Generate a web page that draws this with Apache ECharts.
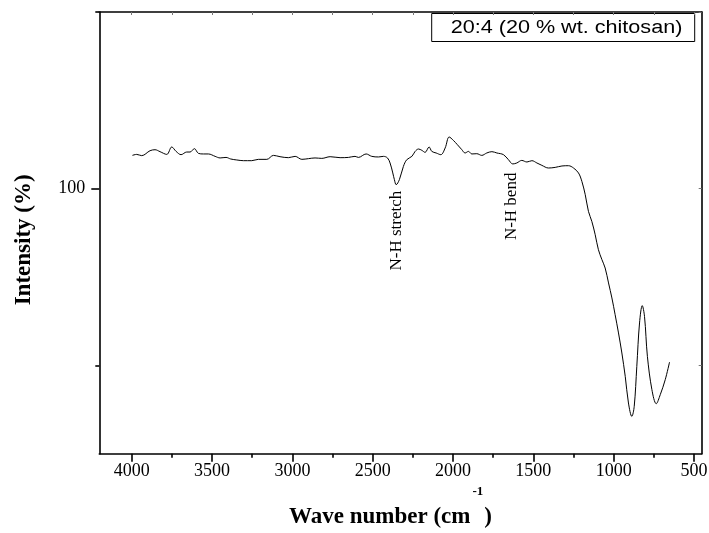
<!DOCTYPE html>
<html>
<head>
<meta charset="utf-8">
<script src="https://cdn.jsdelivr.net/npm/echarts@6/dist/echarts.min.js"></script>
<style>
html,body{margin:0;padding:0;background:#fff;}
#c{width:709px;height:533px;}
</style>
</head>
<body>
<div id="c"></div>
<script>
// ---- data (wave number in cm^-1, intensity in %) ----
const wavenumber = [3996,3969,3938,3886,3855,3824,3782,3751,3724,3693,3658,3637,3610,3585,3554,3523,3481,3450,3413,3384,3346,3305,3253,3212,3159,3118,3077,3025,2983,2941,2900,2859,2817,2765,2703,2651,2610,2589,2541,2506,2464,2433,2408,2392,2375,2365,2354,2334,2309,2288,2256,2236,2215,2194,2174,2149,2132,2105,2076,2049,2024,1998,1973,1945,1925,1904,1883,1852,1821,1790,1758,1727,1686,1655,1628,1603,1572,1540,1509,1478,1447,1406,1364,1322,1281,1250,1219,1198,1177,1157,1136,1115,1095,1073,1053,1032,1011,991,970,949,928,908,887,872,856,839,822,808,790,762,735,710,679,652];
const intensity = [103.77,103.88,103.74,104.30,104.41,104.19,103.88,104.72,104.22,103.85,104.15,104.15,104.53,104.00,103.93,103.93,103.66,103.48,103.54,103.36,103.25,103.17,103.17,103.32,103.32,103.77,103.62,103.51,103.66,103.32,103.40,103.48,103.43,103.62,103.51,103.54,103.66,103.54,103.93,103.66,103.59,103.66,103.48,102.91,101.78,101.02,100.45,101.02,102.52,103.28,103.66,104.22,104.49,104.34,104.11,104.72,104.22,104.04,103.85,104.61,105.85,105.47,104.98,104.41,104.04,104.22,103.93,103.96,103.77,104.04,104.19,104.04,103.85,103.28,102.80,102.91,103.20,103.02,103.17,102.91,102.64,102.34,102.41,102.57,102.60,102.34,101.78,100.83,99.32,97.43,96.30,94.79,93.09,91.96,91.02,89.33,87.63,85.74,83.67,81.40,78.75,75.74,74.22,75.36,79.88,84.80,86.76,85.54,81.02,77.25,75.66,76.68,78.38,80.38];
const xMajorTicks = [500,1000,1500,2000,2500,3000,3500,4000];
const xMinorTicks = [750,1250,1750,2250,2750,3250,3750];
const yLabelTicks = [100];
const yMinorTicks = [80,120];
const annotations = [
  {text:'N-H stretch', wn:2354, val:95.25},
  {text:'N-H bend', wn:1635, val:98.0}
];
const legendText = '20:4 (20 % wt. chitosan)';

const X_MIN = 452, X_MAX = 4202, Y_MIN = 70, Y_MAX = 120;
const serif = "'Liberation Serif','Times New Roman',serif";
const sans = "'Liberation Sans',Arial,sans-serif";

const chart = echarts.init(document.getElementById('c'), null, {renderer:'canvas'});
const axisLineStyle = {color:'#000', width:1.6};
const plain = v => String(v);

const option = {
  animation:false,
  backgroundColor:'#fff',
  grid:{left:99.3, right:7.3, top:12, bottom:79.3, containLabel:false, outerBoundsMode:'none'},
  xAxis:[
    {type:'value', min:X_MIN, max:X_MAX, inverse:true, position:'bottom',
     axisLine:{show:true, onZero:false, lineStyle:axisLineStyle},
     axisTick:{show:true, inside:false, length:8, lineStyle:{color:'#000', width:1.6}, customValues:xMajorTicks},
     axisLabel:{show:true, customValues:xMajorTicks, formatter:plain, color:'#000', fontFamily:serif, fontSize:18, margin:9},
     splitLine:{show:false},
     name:'{m|Wave number (cm}{s|-1}{m|)}',
     nameLocation:'middle', nameGap:26,
     nameTextStyle:{
       padding:[0,20,0,0],
       rich:{
         m:{fontFamily:serif, fontWeight:'bold', fontSize:23, color:'#000', lineHeight:43, verticalAlign:'bottom'},
         s:{fontFamily:serif, fontWeight:'bold', fontSize:13, color:'#000', verticalAlign:'top', padding:[0,1,0,2]}
       }
     }
    },
    {type:'value', min:X_MIN, max:X_MAX, inverse:true, position:'bottom',
     axisLine:{show:false, onZero:false},
     axisTick:{show:true, inside:false, length:4, lineStyle:{color:'#000', width:1.6}, customValues:xMinorTicks},
     axisLabel:{show:false}, splitLine:{show:false}},
    {type:'value', min:X_MIN, max:X_MAX, inverse:true, position:'top',
     axisLine:{show:true, onZero:false, lineStyle:axisLineStyle},
     axisTick:{show:true, inside:true, length:3, lineStyle:{color:'#777', width:1}, customValues:xMajorTicks.concat(xMinorTicks)},
     axisLabel:{show:false}, splitLine:{show:false}}
  ],
  yAxis:[
    {type:'value', min:Y_MIN, max:Y_MAX, position:'left',
     axisLine:{show:true, onZero:false, lineStyle:axisLineStyle},
     axisTick:{show:true, inside:false, length:8, lineStyle:{color:'#000', width:1.6}, customValues:yLabelTicks},
     axisLabel:{show:true, customValues:yLabelTicks, formatter:plain, color:'#000', fontFamily:serif, fontSize:18, margin:14},
     splitLine:{show:false},
     name:'Intensity (%)', nameLocation:'middle', nameRotate:90, nameGap:64,
     nameTextStyle:{fontFamily:serif, fontWeight:'bold', fontSize:23, color:'#000', padding:[0,14,0,0]}
    },
    {type:'value', min:Y_MIN, max:Y_MAX, position:'left',
     axisLine:{show:false, onZero:false},
     axisTick:{show:true, inside:false, length:4, lineStyle:{color:'#000', width:1.6}, customValues:yMinorTicks},
     axisLabel:{show:false}, splitLine:{show:false}},
    {type:'value', min:Y_MIN, max:Y_MAX, position:'right',
     axisLine:{show:true, onZero:false, lineStyle:axisLineStyle},
     axisTick:{show:true, inside:true, length:3, lineStyle:{color:'#777', width:1}, customValues:yLabelTicks.concat(yMinorTicks)},
     axisLabel:{show:false}, splitLine:{show:false}}
  ],
  series:[{
    type:'line', name:legendText, xAxisIndex:0, yAxisIndex:0,
    data: wavenumber.map((w,i)=>[w, intensity[i]]),
    showSymbol:false, symbol:'none', smooth:0.35,
    lineStyle:{color:'#000', width:1},
    silent:true
  }]
};
chart.setOption(option);

// annotations + legend box as graphic elements
const g = [];
annotations.forEach(a=>{
  const p = chart.convertToPixel({xAxisIndex:0, yAxisIndex:0}, [a.wn, a.val]);
  g.push({type:'text', x:p[0], y:p[1], rotation:Math.PI/2,
    style:{text:a.text, fontFamily:serif, fontSize:17, fill:'#000', align:'center', verticalAlign:'middle'}});
});
g.push({type:'rect', shape:{x:431.7, y:13.5, width:263, height:28},
  style:{fill:'#fff', stroke:'#000', lineWidth:1}});
g.push({type:'text', x:566.5, y:28, scaleX:1.2,
  style:{text:legendText, fontFamily:sans, fontSize:18, fill:'#000', align:'center', verticalAlign:'middle'}});
chart.setOption({graphic:g});
</script>
</body>
</html>
